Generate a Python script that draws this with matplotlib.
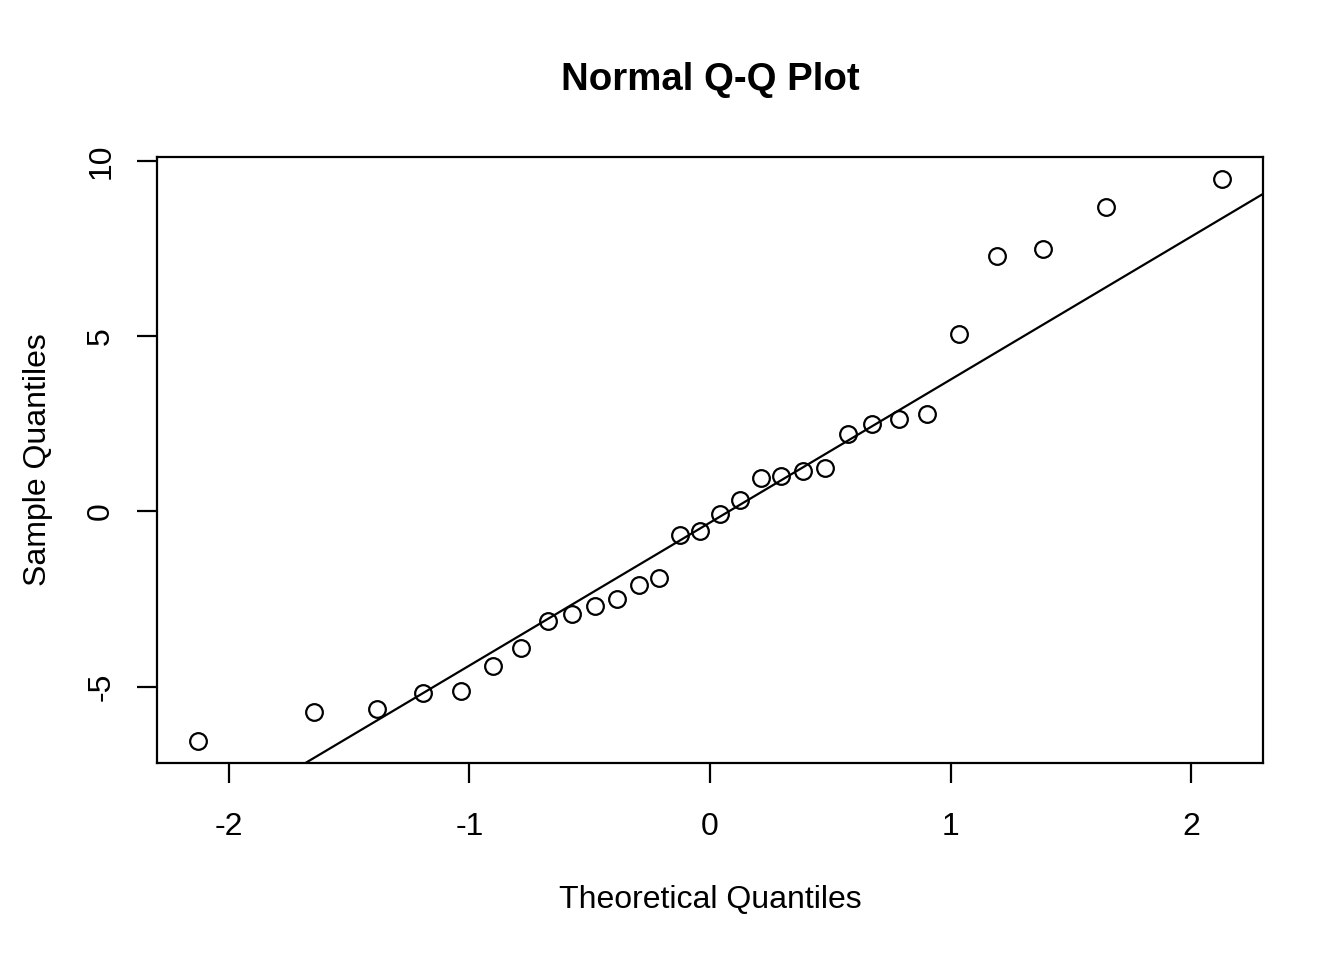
import numpy as np
import matplotlib
matplotlib.use("Agg")
from matplotlib import pyplot as plt

# theoretical normal quantiles (ppoints, n = 30)
theoretical = [-2.128, -1.645, -1.383, -1.192, -1.036, -0.903, -0.784, -0.674,
               -0.573, -0.477, -0.385, -0.297, -0.210, -0.126, -0.042,
               0.042, 0.126, 0.210, 0.297, 0.385, 0.477, 0.573, 0.674,
               0.784, 0.903, 1.036, 1.192, 1.383, 1.645, 2.128]
# sample values (sorted)
sample = [-6.54, -5.72, -5.64, -5.19, -5.12, -4.41, -3.91, -3.12,
          -2.92, -2.70, -2.49, -2.10, -1.89, -0.66, -0.56,
          -0.06, 0.34, 0.96, 1.01, 1.17, 1.24, 2.22, 2.51,
          2.64, 2.79, 5.07, 7.29, 7.48, 8.68, 9.48]

x_ticks = [-2, -1, 0, 1, 2]
y_ticks = [-5, 0, 5, 10]

plt.rcParams["font.family"] = ["Liberation Sans", "DejaVu Sans"]

fig = plt.figure(figsize=(6.72, 4.8), dpi=200)
ax = fig.add_axes([157 / 1344, 1 - 763 / 960, (1263 - 157) / 1344, (763 - 157) / 960])

x = np.array(theoretical)
y = np.array(sample)

ax.plot(x, y, linestyle="none", marker="o", markersize=6.0,
        markerfacecolor="none", markeredgecolor="black", markeredgewidth=0.8)

# qqline: through first and third quartiles
q_y = np.quantile(y, [0.25, 0.75])
q_x = np.array([-0.6744898, 0.6744898])
slope = (q_y[1] - q_y[0]) / (q_x[1] - q_x[0])
intercept = q_y[0] - slope * q_x[0]

# R-style 4% padding
xpad = 0.04 * (x.max() - x.min())
ypad = 0.04 * (y.max() - y.min())
xlim = (x.min() - xpad, x.max() + xpad)
ylim = (y.min() - ypad, y.max() + ypad)
line_x = np.array(xlim)
ax.plot(line_x, intercept + slope * line_x, color="black", linewidth=0.8)
ax.set_xlim(xlim)
ax.set_ylim(ylim)

ax.set_xticks(x_ticks)
ax.set_xticklabels([str(t) for t in x_ticks])
ax.set_yticks(y_ticks)
ax.set_yticklabels([str(t) for t in y_ticks], rotation=90, va="center")
ax.tick_params(direction="out", length=7.2, width=0.8, labelsize=11.5)
ax.tick_params(axis="x", pad=10.5)
ax.tick_params(axis="y", pad=7.5)
for s in ax.spines.values():
    s.set_linewidth(0.8)

fig.text(710 / 1344, 1 - 900 / 960, "Theoretical Quantiles", ha="center",
         va="center", fontsize=11.5)
fig.text(38 / 1344, 1 - 460 / 960, "Sample Quantiles", ha="center",
         va="center", rotation=90, fontsize=11.5)
fig.text(710 / 1344, 1 - 80 / 960, "Normal Q-Q Plot", ha="center", va="center",
         fontsize=13.8, fontweight="bold")

fig.savefig("out.png", dpi=200)
